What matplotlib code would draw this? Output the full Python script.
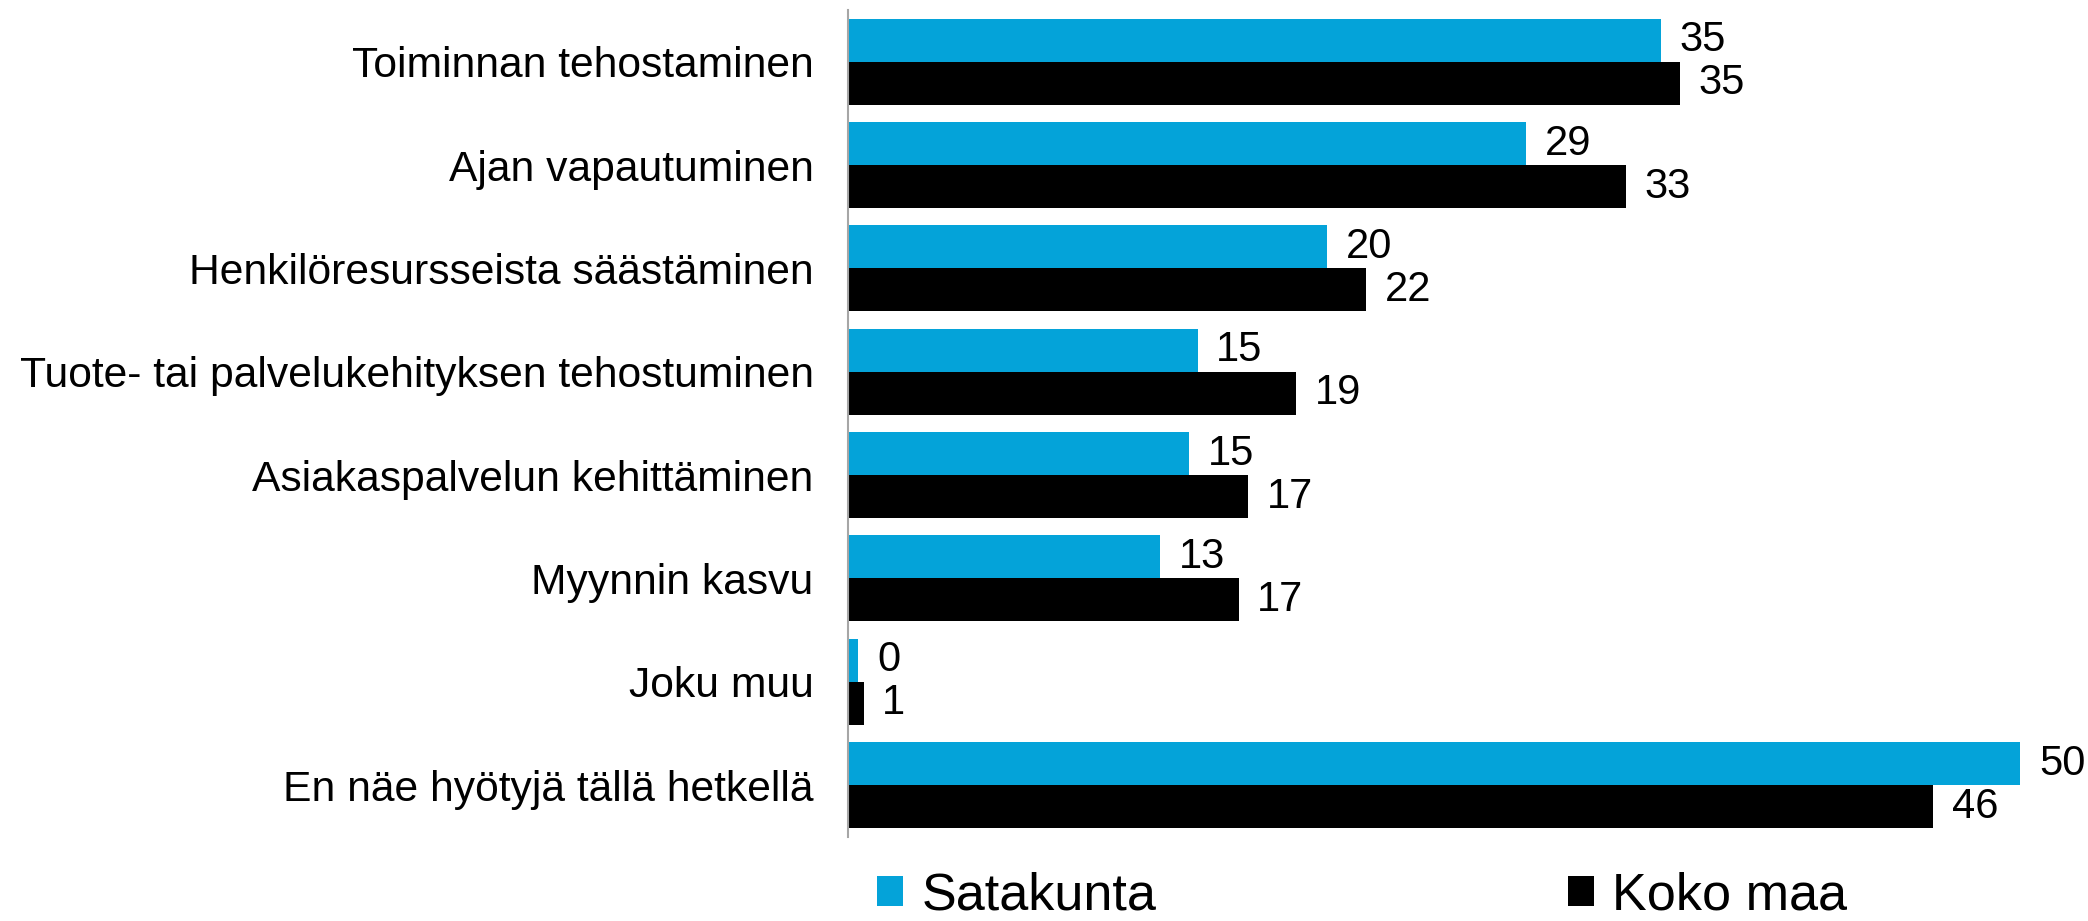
import numpy as np
import matplotlib
matplotlib.use("Agg")
import matplotlib.pyplot as plt

plt.rcParams['font.family'] = ['Liberation Sans', 'DejaVu Sans']

# data
kategoriat = ['Toiminnan tehostaminen', 'Ajan vapautuminen',
              'Henkilöresursseista säästäminen',
              'Tuote- tai palvelukehityksen tehostuminen',
              'Asiakaspalvelun kehittäminen', 'Myynnin kasvu',
              'Joku muu', 'En näe hyötyjä tällä hetkellä']
satakunta = [34.66, 28.9, 20.44, 14.9, 14.53, 13.3, 0.42, 50.0]
koko_maa = [35.47, 33.17, 22.08, 19.12, 17.06, 16.65, 0.65, 46.28]
sarjat = ['Satakunta', 'Koko maa']

sininen = '#04A3D9'
musta = '#000000'

fig = plt.figure(figsize=(20.88, 9.21), dpi=100)
ax = fig.add_axes([848.3/2088, 1-836.7/921, (52*23.44)/2088, (836.7-10)/921])

y = np.arange(len(kategoriat))
h = 0.416
b1 = ax.barh(y - h/2, satakunta, height=h, color=sininen, label=sarjat[0])
b2 = ax.barh(y + h/2, koko_maa, height=h, color=musta, label=sarjat[1])

ax.bar_label(b1, fmt='%.0f', padding=13.5, fontsize=30)
ax.bar_label(b2, fmt='%.0f', padding=13.5, fontsize=30)

ax.set_xlim(0, 52)
ax.set_ylim(len(kategoriat)-0.5, -0.5)
ax.set_yticks(y)
ax.set_yticklabels(kategoriat, fontsize=30.7)
ax.tick_params(axis='y', length=0, pad=25)
ax.set_xticks([])
for s in ['top', 'right', 'bottom']:
    ax.spines[s].set_visible(False)
ax.spines['left'].set_color('#A6A6A6')
ax.spines['left'].set_linewidth(1.5)

fig.legend(handles=[b1, b2], labels=sarjat, loc='center left',
           bbox_to_anchor=(877.3/2088, 1-896/921), ncol=2, frameon=False,
           fontsize=37.5, handlelength=0.5, handleheight=0.5,
           handletextpad=0.35, columnspacing=7.9, borderpad=0, borderaxespad=0)

fig.savefig('out.png', dpi=100)
